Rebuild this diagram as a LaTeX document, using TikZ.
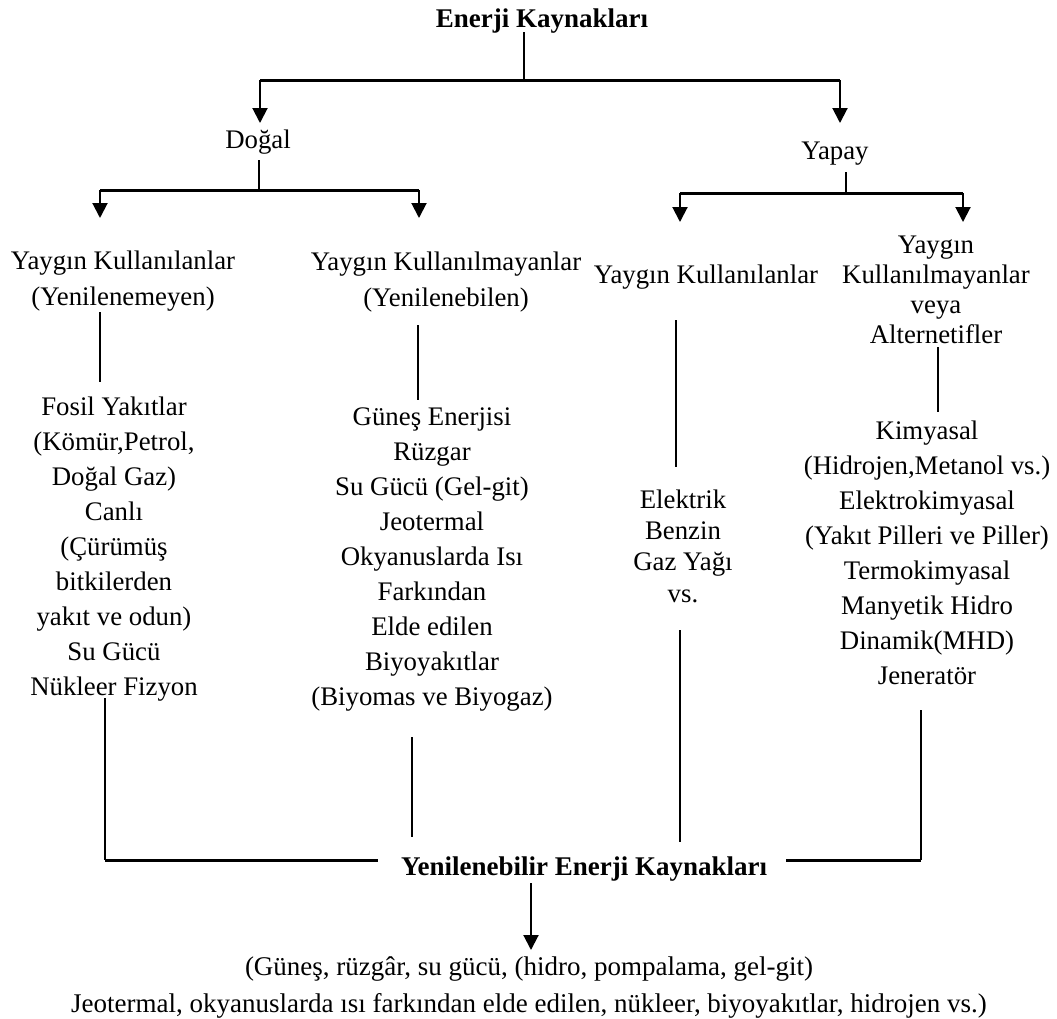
\documentclass[tikz,border=0pt]{standalone}
\usepackage{fontspec}
\setmainfont{Liberation Serif}
\usetikzlibrary{arrows.meta}
\begin{document}
\begin{tikzpicture}[x=1pt,y=-1pt,
  txt/.style={inner sep=0pt, align=center, font=\fontsize{26.8}{35}\selectfont},
  btxt/.style={inner sep=0pt, align=center, font=\fontsize{27}{35}\selectfont\bfseries},
  ln/.style={line width=2pt},
  hl/.style={line width=3pt},
  arr/.style={line width=2pt, -{Triangle[width=15pt,length=15pt]}}]
\useasboundingbox (0,0) rectangle (1057,1018);
% titles
\node[btxt] (title) at (542,21.5) {Enerji Kaynakları};
\node[txt] (dogal) at (258,142.5) {Doğal};
\node[txt] (yapay) at (835,154) {Yapay};
% headers
\node[txt, font=\fontsize{26.8}{36}\selectfont] (h1) at (123,281) {Yaygın Kullanılanlar\\(Yenilenemeyen)};
\node[txt, font=\fontsize{26.8}{36}\selectfont] (h2) at (446,282) {Yaygın Kullanılmayanlar\\(Yenilenebilen)};
\node[txt] (h3) at (706,277.5) {Yaygın Kullanılanlar};
\node[txt, font=\fontsize{26.8}{30}\selectfont] (h4) at (936,290) {Yaygın\\Kullanılmayanlar\\veya\\Alternetifler};
% bodies
\node[txt] (b1) at (114,549.5) {Fosil Yakıtlar\\(Kömür,Petrol,\\Doğal Gaz)\\Canlı\\(Çürümüş\\bitkilerden\\yakıt ve odun)\\Su Gücü\\Nükleer Fizyon};
\node[txt] (b2) at (432,559.5) {Güneş Enerjisi\\Rüzgar\\Su Gücü (Gel-git)\\Jeotermal\\Okyanuslarda Isı\\Farkından\\Elde edilen\\Biyoyakıtlar\\(Biyomas ve Biyogaz)};
\node[txt, font=\fontsize{26.8}{31.3}\selectfont] (b3) at (683,546) {Elektrik\\Benzin\\Gaz Yağı\\vs.};
\node[txt] (b4) at (927,552.5) {Kimyasal\\(Hidrojen,Metanol vs.)\\Elektrokimyasal\\(Yakıt Pilleri ve Piller)\\Termokimyasal\\Manyetik Hidro\\Dinamik(MHD)\\Jeneratör};
% bottom
\node[btxt] (ren) at (584,869.5) {Yenilenebilir Enerji Kaynakları};
\node[txt, font=\fontsize{27}{37}\selectfont] (list) at (529,988) {(Güneş, rüzgâr, su gücü, (hidro, pompalama, gel-git)\\Jeotermal, okyanuslarda ısı farkından elde edilen, nükleer, biyoyakıtlar, hidrojen vs.)};
% coordinates
\coordinate (t0) at (524,32);
\coordinate (t1) at (524,80);
\coordinate (tl) at (260,80);
\coordinate (tr) at (840,80);
\coordinate (ta) at (260,123);
\coordinate (tb) at (840,123);
\coordinate (d0) at (259,160);
\coordinate (d1) at (259,190);
\coordinate (dl) at (100,190);
\coordinate (dr) at (419,190);
\coordinate (da) at (100,218);
\coordinate (db) at (419,218);
\coordinate (y0) at (846,172);
\coordinate (y1) at (846,193);
\coordinate (yl) at (680,193);
\coordinate (yr) at (963,193);
\coordinate (ya) at (680,222);
\coordinate (yb) at (963,222);
\coordinate (c1a) at (100,312);
\coordinate (c1b) at (100,382);
\coordinate (c2a) at (418,325);
\coordinate (c2b) at (418,400);
\coordinate (c3a) at (676,320);
\coordinate (c3b) at (676,467);
\coordinate (c4a) at (938,347);
\coordinate (c4b) at (938,412);
\coordinate (e1a) at (105,698);
\coordinate (e1b) at (105,860);
\coordinate (e1c) at (378,860);
\coordinate (e2a) at (412,737);
\coordinate (e2b) at (412,837);
\coordinate (e3a) at (680,630);
\coordinate (e3b) at (680,842);
\coordinate (e4a) at (921,710);
\coordinate (e4b) at (921,860);
\coordinate (e4c) at (786,860);
\coordinate (ra) at (531,883);
\coordinate (rb) at (531,950);
% connectors
\draw[ln] (t0) -- (t1);
\draw[hl] (tl) -- (tr);
\draw[arr] (tl) -- (ta);
\draw[arr] (tr) -- (tb);
\draw[ln] (d0) -- (d1);
\draw[hl] (dl) -- (dr);
\draw[arr] (dl) -- (da);
\draw[arr] (dr) -- (db);
\draw[ln] (y0) -- (y1);
\draw[hl] (yl) -- (yr);
\draw[arr] (yl) -- (ya);
\draw[arr] (yr) -- (yb);
\draw[ln] (c1a) -- (c1b);
\draw[ln] (c2a) -- (c2b);
\draw[ln] (c3a) -- (c3b);
\draw[ln] (c4a) -- (c4b);
\draw[ln] (e1a) -- (e1b);
\draw[hl] (e1b) -- (e1c);
\draw[ln] (e2a) -- (e2b);
\draw[ln] (e3a) -- (e3b);
\draw[ln] (e4a) -- (e4b);
\draw[hl] (e4b) -- (e4c);
\draw[arr] (ra) -- (rb);
\end{tikzpicture}
\end{document}
